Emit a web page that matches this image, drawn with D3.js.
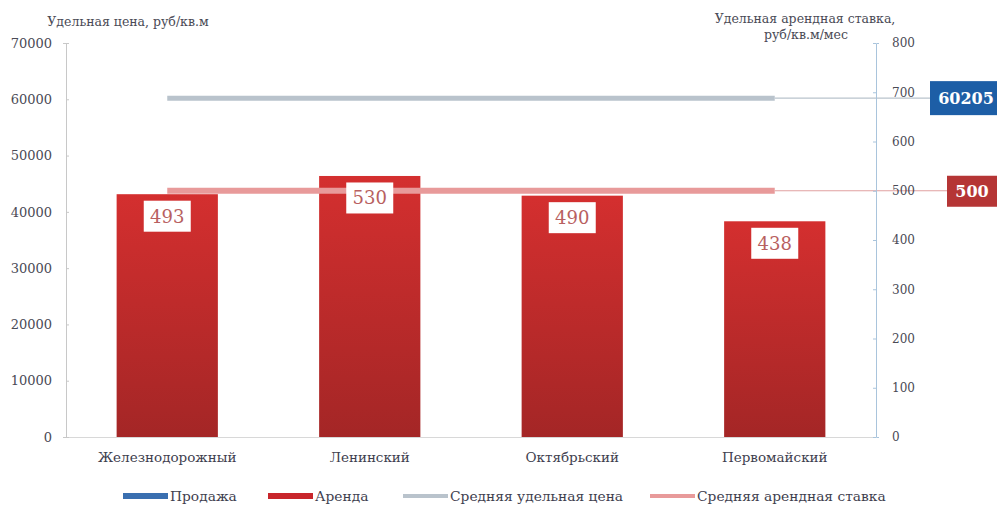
<!DOCTYPE html>
<html><head><meta charset="utf-8">
<script src="https://cdn.jsdelivr.net/npm/d3@7"></script>
<style>body{margin:0;background:#fff}svg{display:block}text{font-family:"DejaVu Serif","Liberation Serif",serif}</style>
</head><body><svg id="c" width="997" height="506"></svg>
<script>
const categories = ["Железнодорожный","Ленинский","Октябрьский","Первомайский"];
const rentValues = [493,530,490,438];
const avgPrice = 60205;
const avgRent = 500;
const leftTicks = [0,10000,20000,30000,40000,50000,60000,70000];
const rightTicks = [0,100,200,300,400,500,600,700,800];
const legendItems = [
  {name:"Продажа", type:"rect", color:"#3a6fb0"},
  {name:"Аренда", type:"rect", color:"#c8262b"},
  {name:"Средняя удельная цена", type:"line", color:"#b9c3cc"},
  {name:"Средняя арендная ставка", type:"line", color:"#e89a9a"}
];

const svg = d3.select("#c");
const L = 66, R = 876, T = 43, B = 437;
const x = d3.scaleBand().domain(categories).range([L, R]).paddingInner(0.5).paddingOuter(0.25);
const yL = d3.scaleLinear().domain([0,70000]).range([B,T]);
const yR = d3.scaleLinear().domain([0,800]).range([B,T]);

const defs = svg.append("defs");
const g = defs.append("linearGradient").attr("id","bar").attr("x1",0).attr("y1",0).attr("x2",0).attr("y2",1);
g.append("stop").attr("offset","0%").attr("stop-color","#d42f2f");
g.append("stop").attr("offset","100%").attr("stop-color","#a42626");

// baseline
svg.append("line").attr("x1",L).attr("x2",R).attr("y1",B+0.5).attr("y2",B+0.5).attr("stroke","#d8d8d8");

// bars
svg.selectAll("rect.bar").data(rentValues).join("rect").attr("class","bar")
  .attr("x",(d,i)=>x(categories[i])).attr("width",x.bandwidth())
  .attr("y",d=>yR(d)).attr("height",d=>B-yR(d)).attr("fill","url(#bar)");

// average lines
const x1 = x(categories[0]) + x.bandwidth()/2, x2 = x(categories[3]) + x.bandwidth()/2;
svg.append("line").attr("x1",x2).attr("x2",932).attr("y1",yL(avgPrice)).attr("y2",yL(avgPrice)).attr("stroke","#b9c3cc").attr("stroke-width",1.2);
svg.append("line").attr("x1",x1).attr("x2",x2).attr("y1",yL(avgPrice)).attr("y2",yL(avgPrice)).attr("stroke","#b9c3cc").attr("stroke-width",5);
svg.append("line").attr("x1",x2).attr("x2",948).attr("y1",yR(avgRent)).attr("y2",yR(avgRent)).attr("stroke","#e0a0a0").attr("stroke-width",1.2);
svg.append("line").attr("x1",x1).attr("x2",x2).attr("y1",yR(avgRent)).attr("y2",yR(avgRent)).attr("stroke","#e89a9a").attr("stroke-width",6);

// bar labels
const lbl = svg.selectAll("g.lbl").data(rentValues).join("g").attr("class","lbl")
  .attr("transform",(d,i)=>`translate(${x(categories[i])+x.bandwidth()/2},${yR(d)+22})`);
lbl.append("rect").attr("x",-23.5).attr("y",-15.5).attr("width",47).attr("height",31).attr("fill","#fff");
lbl.append("text").attr("text-anchor","middle").attr("dy","0.36em").attr("font-size",18).attr("fill","#b86060").text(d=>d);

// axes
const axL = d3.axisLeft(yL).tickValues(leftTicks).tickSize(3).tickPadding(11).tickFormat(d3.format("d"));
const gL = svg.append("g").attr("transform",`translate(${L},0)`).call(axL);
gL.attr("font-family",null);
gL.select(".domain").attr("stroke","#c8c8c8");
gL.selectAll(".tick line").attr("stroke","#c8c8c8").attr("x2",3);
gL.selectAll("text").attr("font-size",13).attr("fill","#4a4a55");
const axR = d3.axisRight(yR).tickValues(rightTicks).tickSize(3).tickPadding(13);
const gR = svg.append("g").attr("transform",`translate(${R},0)`).call(axR);
gR.attr("font-family",null);
gR.select(".domain").attr("stroke","#a9c4dc");
gR.selectAll(".tick line").attr("stroke","#a9c4dc").attr("x2",-3);
gR.selectAll("text").attr("font-size",12).attr("fill","#4a4a55");

// category labels
svg.selectAll("text.cat").data(categories).join("text").attr("class","cat")
  .attr("x",d=>x(d)+x.bandwidth()/2).attr("y",462).attr("text-anchor","middle")
  .attr("font-size",13.5).attr("fill","#3e3e4e").text(d=>d);

// axis titles
svg.append("text").attr("x",128).attr("y",26).attr("text-anchor","middle").attr("font-size",12.5).attr("fill","#4a4a55").text("Удельная цена, руб/кв.м");
svg.append("text").attr("x",805).attr("y",23).attr("text-anchor","middle").attr("font-size",12.5).attr("fill","#4a4a55").text("Удельная арендная ставка,");
svg.append("text").attr("x",806).attr("y",39).attr("text-anchor","middle").attr("font-size",12.5).attr("fill","#4a4a55").text("руб/кв.м/мес");

// value boxes
svg.append("rect").attr("x",930).attr("y",yL(avgPrice)-17).attr("width",67).attr("height",34).attr("fill","#1d5ea6");
svg.append("text").attr("x",966).attr("y",yL(avgPrice)).attr("dy","0.36em").attr("text-anchor","middle").attr("font-size",16).attr("font-weight","bold").attr("fill","#fff").text(d3.format("d")(avgPrice));
svg.append("rect").attr("x",947).attr("y",yR(avgRent)-15).attr("width",50).attr("height",31).attr("fill","#b53535");
svg.append("text").attr("x",972).attr("y",yR(avgRent)).attr("dy","0.36em").attr("text-anchor","middle").attr("font-size",16).attr("font-weight","bold").attr("fill","#fff").text(avgRent);

// legend
const lx = [123,268,403,650];
const lg = svg.selectAll("g.leg").data(legendItems).join("g").attr("class","leg").attr("transform",(d,i)=>`translate(${lx[i]},496)`);
lg.each(function(d){
  const s = d3.select(this);
  if(d.type==="rect") s.append("rect").attr("x",0).attr("y",-3).attr("width",45).attr("height",6).attr("fill",d.color);
  else s.append("rect").attr("x",0).attr("y",-2).attr("width",45).attr("height",4).attr("fill",d.color);
  s.append("text").attr("x",47).attr("y",0).attr("dy","0.35em").attr("font-size",13.8).attr("fill","#3e3e4e").text(d.name);
});
</script></body></html>
